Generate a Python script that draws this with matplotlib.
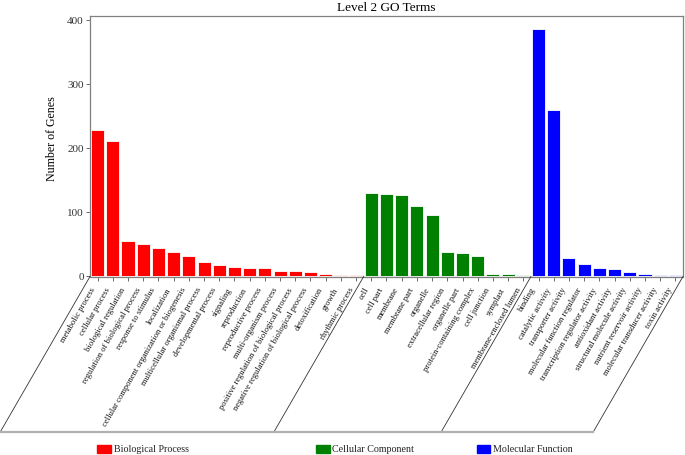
import matplotlib
matplotlib.use("Agg")
import matplotlib.pyplot as plt
from matplotlib.patches import Rectangle
from matplotlib.lines import Line2D
import matplotlib.transforms as mtransforms
import numpy as np

plt.rcParams['font.family'] = ['Liberation Serif', 'DejaVu Serif']

bp_terms = ["metabolic process", "cellular process", "biological regulation",
            "regulation of biological process", "response to stimulus", "localization",
            "cellular component organization or biogenesis", "multicellular organismal process",
            "developmental process", "signaling", "reproduction", "reproductive process",
            "multi-organism process", "positive regulation of biological process",
            "negative regulation of biological process", "detoxification", "growth",
            "rhythmic process"]
bp_values = [228, 210, 54, 49, 43, 36, 30, 21, 16, 13, 12, 12, 7, 7, 6, 2, 1, 1]

cc_terms = ["cell", "cell part", "membrane", "membrane part", "organelle",
            "extracellular region", "organelle part", "protein-containing complex",
            "cell junction", "symplast", "membrane-enclosed lumen"]
cc_values = [129, 127, 126, 109, 95, 37, 35, 30, 2, 2, 1]

mf_terms = ["binding", "catalytic activity", "transporter activity",
            "molecular function regulator", "transcription regulator activity",
            "antioxidant activity", "structural molecule activity",
            "nutrient reservoir activity", "molecular transducer activity", "toxin activity"]
mf_values = [386, 259, 27, 18, 11, 10, 6, 3, 1, 1]

groups = ["Biological Process", "Cellular Component", "Molecular Function"]
colors = ["#ff0000", "#008000", "#0000ff"]

terms = bp_terms + cc_terms + mf_terms
values = bp_values + cc_values + mf_values
bar_colors = ([colors[0]] * len(bp_terms) + [colors[1]] * len(cc_terms)
              + [colors[2]] * len(mf_terms))

W, H = 685, 456
fig = plt.figure(figsize=(W / 100, H / 100), dpi=100)
ax_l, ax_r, ax_t, ax_b = 90, 683, 16.7, 277.5
ax = fig.add_axes([ax_l / W, 1 - ax_b / H, (ax_r - ax_l) / W, (ax_b - ax_t) / H])

x = np.arange(len(terms))
ax.bar(x, values, width=0.86, color=bar_colors, edgecolor='white', linewidth=0.6)
ax.set_xlim(-0.5, len(terms) - 0.5)
ax.set_ylim(-1.5, 406)
ax.set_yticks([0, 100, 200, 300, 400])
ax.set_xticks(x)
ax.set_xticklabels([])
ax.tick_params(axis='x', direction='out', length=3, width=0.6, color='#555555')
ax.tick_params(axis='y', direction='out', length=3, width=0.6, color='#555555',
               labelsize=8, labelcolor='#333333', pad=1.5)
for s in ax.spines.values():
    s.set_color('#808080')
    s.set_linewidth(0.9)

# rotated category labels
base = mtransforms.blended_transform_factory(ax.transData, ax.transAxes)
shift = mtransforms.ScaledTranslation(-4.5 / 100, -11 / 100, fig.dpi_scale_trans)
for xi, t in zip(x, terms):
    ax.text(xi, 0, t, transform=base + shift, rotation=60, rotation_mode='anchor',
            ha='right', va='center', fontsize=6.1, color='#111111', clip_on=False)

ax.set_title("Level 2 GO Terms", fontsize=9.5, pad=4)
ax.set_ylabel("Number of Genes", fontsize=8.6)
ax.yaxis.set_label_coords((58 - ax_l) / (ax_r - ax_l), (ax_b - 139) / (ax_b - ax_t))

# slanted group separators below the axis
fig.canvas.draw()
bottom_y = 433.3
dy = bottom_y - ax_b
dx = dy / np.tan(np.radians(60))
bounds = [-0.5, len(bp_terms) - 0.5, len(bp_terms) + len(cc_terms) - 0.5, len(terms) - 0.5]
xs_bottom = []
for b in bounds:
    xd = ax.transData.transform((b, 0))[0]
    x0 = xd
    x1 = xd - dx
    xs_bottom.append(x1)
    fig.add_artist(Line2D([x0 / W, x1 / W], [1 - ax_b / H, 1 - bottom_y / H],
                          color='#333333', linewidth=0.6, transform=fig.transFigure))
fig.add_artist(Line2D([xs_bottom[0] / W, xs_bottom[-1] / W], [1 - bottom_y / H, 1 - bottom_y / H],
                      color='#b0b0b0', linewidth=1.6, transform=fig.transFigure))

# legend
leg_x = [97, 316, 476.7]
leg_y = 449.5
for gx, name, c in zip(leg_x, groups, colors):
    fig.add_artist(Rectangle((gx / W, 1 - (leg_y + 4) / H), 13.5 / W, 8 / H,
                             color=c, transform=fig.transFigure))
    fig.text((gx + 16.5) / W, 1 - leg_y / H, name, fontsize=7.2, va='center', ha='left',
             color='#222222')

fig.savefig("out.png", dpi=100)
